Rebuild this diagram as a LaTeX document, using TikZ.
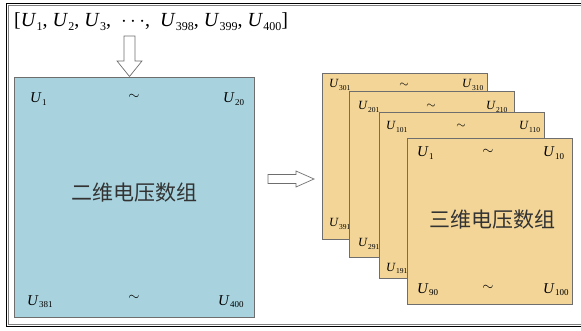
\documentclass[tikz,border=0pt]{standalone}
\usepackage{fontspec}
\setmainfont{Liberation Serif}
\newfontfamily\cjk{Noto Sans CJK SC}
\definecolor{planeblue}{RGB}{168,211,222}
\definecolor{sheettan}{RGB}{242,213,151}
\definecolor{edgegray}{RGB}{110,110,110}
% italic U with a small, lowered upright index
\newcommand\Uv[1]{\textit{U}\kern0.2pt\raisebox{-0.35ex}{\scalebox{0.6}{#1}}}
\begin{document}
\begin{tikzpicture}[x=1pt,y=-1pt,
  planebox/.style={draw=edgegray, line width=0.8pt, fill=planeblue, minimum width=240pt, minimum height=240pt, inner sep=0pt},
  sheet/.style={draw=edgegray, line width=0.8pt, fill=sheettan, minimum width=165pt, minimum height=166pt, inner sep=0pt},
  big/.style={font=\fontsize{15}{15}\selectfont, inner sep=0pt, anchor=base west},
  small/.style={font=\fontsize{12.5}{12.5}\selectfont, inner sep=0pt, anchor=base west},
  tilde/.style={font=\fontsize{15}{15}\selectfont, inner sep=0pt},
  tildesmall/.style={font=\fontsize{12.5}{12.5}\selectfont, inner sep=0pt},
  hollow/.style={draw=edgegray, line width=0.7pt, fill=white, line join=miter},
  cjklabel/.style={font=\cjk\fontsize{21}{21}\selectfont, text=black!80, inner sep=0pt}]
\useasboundingbox (0,0) rectangle (581,331);

% outer frame
\draw[black, line width=1.3pt] (6.5,3.5) rectangle (600,326.5);
\draw[gray, line width=0.6pt] (8.3,5.3) rectangle (600,324.7);

% input vector
\node[font=\fontsize{20}{20}\selectfont, inner sep=0pt, anchor=base west] (vec) at (14,27)
  {[\Uv{1}, \Uv{2}, \Uv{3}, \ $\cdots$, \ \Uv{398}, \Uv{399}, \Uv{400}]};

% two-dimensional array
\node[planebox] (plane) at (134,197) {};
\node[big] (p1) at (30,103) {\Uv{1}};
\node[tilde] (pt) at (134,97) {$\sim$};
\node[big] (p20) at (223,103) {\Uv{20}};
\node[big] (p381) at (27,305) {\Uv{381}};
\node[tilde] (pb) at (134,298) {$\sim$};
\node[big] (p400) at (218,305) {\Uv{400}};
\node[cjklabel] (plabel) at (134,193) {二维电压数组};

% down arrow into the 2-D array
\draw[hollow] (124,36) -- (135,36) -- (135,61) -- (142,61) -- (129.5,76.5) -- (117,61) -- (124,61) -- cycle;

% right arrow towards the 3-D stack
\draw[hollow] (268,174.5) -- (296,174.5) -- (296,171) -- (314,179) -- (296,187) -- (296,183.5) -- (268,183.5) -- cycle;

% three-dimensional stack, back to front
\node[sheet] (s4) at (404.5,156) {};
\node[small] (s4a) at (329,88) {\Uv{301}};
\node[tildesmall] (s4t) at (404,85) {$\sim$};
\node[small] (s4b) at (462,88) {\Uv{310}};
\node[small] (s4c) at (329,227) {\Uv{391}};

\node[sheet] (s3) at (431.5,174.5) {};
\node[small] (s3a) at (358,110) {\Uv{201}};
\node[tildesmall] (s3t) at (431,106) {$\sim$};
\node[small] (s3b) at (486,110) {\Uv{210}};
\node[small] (s3c) at (358,247) {\Uv{291}};

\node[sheet] (s2) at (461.5,195) {};
\node[small] (s2a) at (386,130) {\Uv{101}};
\node[tildesmall] (s2t) at (461,126) {$\sim$};
\node[small] (s2b) at (519,130) {\Uv{110}};
\node[small] (s2c) at (386,271) {\Uv{191}};

\node[sheet] (s1) at (489.5,221) {};
\node[big] (s1a) at (417,157) {\Uv{1}};
\node[tilde] (s1t) at (488,152) {$\sim$};
\node[big] (s1b) at (543,157) {\Uv{10}};
\node[big] (s1c) at (417,293) {\Uv{90}};
\node[tilde] (s1u) at (488,288) {$\sim$};
\node[big] (s1d) at (543,293) {\Uv{100}};
\node[cjklabel] (slabel) at (492,220) {三维电压数组};
\end{tikzpicture}
\end{document}
